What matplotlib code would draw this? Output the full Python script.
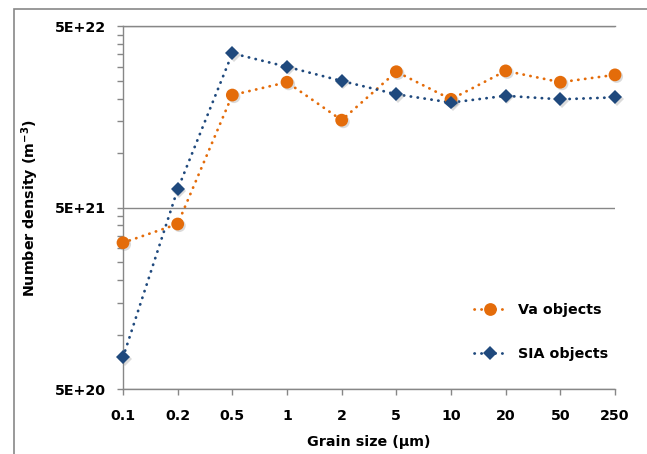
import numpy as np
import matplotlib
matplotlib.use("Agg")
import matplotlib.pyplot as plt
from matplotlib.patches import Rectangle
from matplotlib.ticker import FixedLocator, NullFormatter
import matplotlib.patheffects as pe

plt.rcParams['font.family'] = ['DejaVu Sans']
plt.rcParams['mathtext.fontset'] = 'custom'
plt.rcParams['mathtext.rm'] = 'DejaVu Sans:bold'
plt.rcParams['mathtext.it'] = 'DejaVu Sans:bold'
plt.rcParams['mathtext.bf'] = 'DejaVu Sans:bold'

categories = ['0.1', '0.2', '0.5', '1', '2', '5', '10', '20', '50', '250']
va_objects = [3.21e21, 4.07e21, 2.09e22, 2.46e22, 1.52e22, 2.81e22, 1.98e22, 2.84e22, 2.46e22, 2.70e22]
sia_objects = [7.5e20, 6.32e21, 3.55e22, 2.99e22, 2.50e22, 2.11e22, 1.90e22, 2.07e22, 1.98e22, 2.03e22]
y_ticks = [5e20, 5e21, 5e22]
y_tick_labels = ['5E+20', '5E+21', '5E+22']

ORANGE = '#E46C0A'
BLUE = '#1F497D'
GRAY = '#878787'
FS = 10.3
LS = (0, (0.1, 2.4))
LW = 2.0

fig = plt.figure(figsize=(6.47, 4.54), dpi=100)
ax = fig.add_axes([123/647, 1-389.3/454, (615-123)/647, (389.3-26.3)/454])

# outer frame
fig.patches.append(Rectangle((14/647, -0.1), 1.2, 1 - 9/454 + 0.1, transform=fig.transFigure,
                             fill=False, edgecolor=GRAY, linewidth=1.2))

x = np.arange(len(categories))
shadow = [pe.SimplePatchShadow(offset=(1.2, -1.2), shadow_rgbFace='gray', alpha=0.28), pe.Normal()]

for vals, col, mk, ms, lab in [(va_objects, ORANGE, 'o', 9.2, 'Va objects'),
                               (sia_objects, BLUE, 'D', 7.0, 'SIA objects')]:
    ax.plot(x, vals, linestyle=LS, dash_capstyle='round', color=col,
            linewidth=LW, clip_on=False, zorder=3)
    ax.plot(x, vals, linestyle='none', marker=mk, markersize=ms, color=col,
            markeredgewidth=0, clip_on=False, zorder=4, path_effects=shadow)
    # legend proxy
    ax.plot([], [], linestyle=LS, dash_capstyle='round', color=col,
            linewidth=LW, marker=mk, markersize=ms, markeredgewidth=0, label=lab)

ax.set_yscale('log')
ax.set_ylim(5e20, 5e22)
ax.set_xlim(0, len(categories) - 1)

ax.yaxis.set_major_locator(FixedLocator(y_ticks))
ax.set_yticklabels(y_tick_labels)
minor = [k * b for b in [5e20, 5e21] for k in range(2, 10)]
ax.yaxis.set_minor_locator(FixedLocator(minor))
ax.yaxis.set_minor_formatter(NullFormatter())

ax.set_xticks(x)
ax.set_xticklabels(categories)

for s in ['top', 'right']:
    ax.spines[s].set_visible(False)
for s in ['left', 'bottom']:
    ax.spines[s].set_color(GRAY)
    ax.spines[s].set_linewidth(1.0)

ax.yaxis.grid(True, which='major', color=GRAY, linewidth=1.0)
ax.set_axisbelow(True)
ax.axhline(5e22, color=GRAY, linewidth=1.0, clip_on=False, zorder=1)

ax.tick_params(axis='both', which='both', direction='out', color=GRAY, length=4.5, width=1.0)
ax.tick_params(axis='y', which='major', labelsize=FS, pad=8)
ax.tick_params(axis='x', which='major', labelsize=FS, pad=10)
for t in ax.get_xticklabels() + ax.get_yticklabels():
    t.set_fontweight('bold')

ax.set_xlabel('Grain size (µm)', fontsize=FS, fontweight='bold', labelpad=8)
ax.set_ylabel('Number density (m$^{-3}$)', fontsize=FS, fontweight='bold', labelpad=10)

leg = ax.legend(loc='upper left', bbox_to_anchor=(461/647, 1 - 290/454), bbox_transform=fig.transFigure,
                frameon=False, handlelength=2.3, labelspacing=2.1, handletextpad=0.75,
                prop={'weight': 'bold', 'size': FS})

fig.savefig('out.png', dpi=100)
